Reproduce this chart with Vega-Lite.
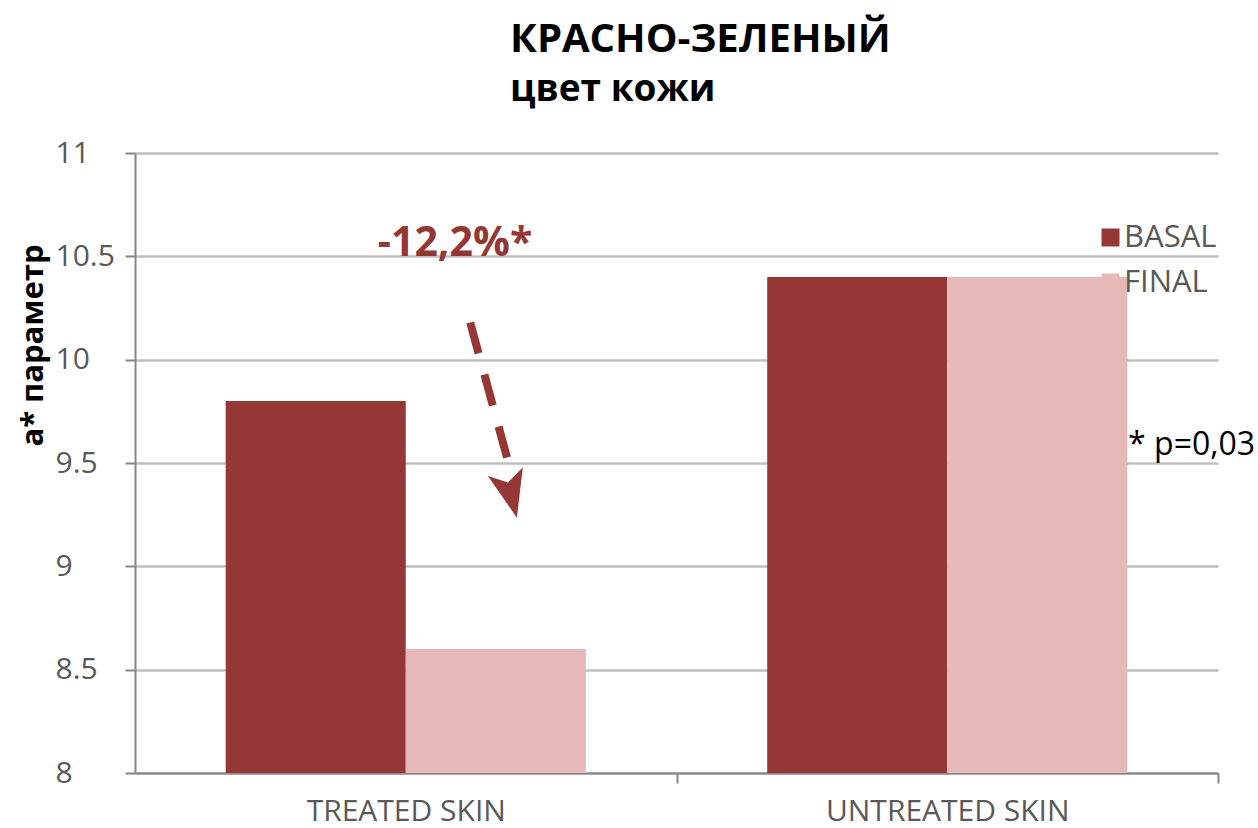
{
  "$schema": "https://vega.github.io/schema/vega-lite/v6.json",
  "width": 1083,
  "height": 620,
  "autosize": "none",
  "padding": {"left": 135, "top": 153, "right": 40, "bottom": 55},
  "background": "white",
  "config": {
    "font": "Open Sans",
    "view": {"stroke": null}
  },
  "title": {
    "text": "КРАСНО-ЗЕЛЕНЫЙ",
    "subtitle": "цвет кожи",
    "anchor": "start",
    "frame": "group",
    "dx": 375,
    "offset": 30,
    "font": "Open Sans",
    "fontSize": 40,
    "fontWeight": "bold",
    "color": "#000000",
    "subtitleFont": "Open Sans",
    "subtitleFontSize": 37,
    "subtitleFontWeight": "bold",
    "subtitleColor": "#000000",
    "subtitlePadding": 12
  },
  "layer": [
    {
      "data": {
        "values": [
          {"group": "TREATED SKIN", "series": "BASAL", "value": 9.8},
          {"group": "TREATED SKIN", "series": "FINAL", "value": 8.6},
          {"group": "UNTREATED SKIN", "series": "BASAL", "value": 10.4},
          {"group": "UNTREATED SKIN", "series": "FINAL", "value": 10.4}
        ]
      },
      "mark": {"type": "bar", "clip": true},
      "encoding": {
        "x": {
          "field": "group",
          "type": "nominal",
          "sort": null,
          "scale": {"paddingInner": 0.335, "paddingOuter": 0.1675},
          "axis": {
            "title": null,
            "labelAngle": 0,
            "labelFontSize": 30,
            "labelLimit": 0,
            "labelColor": "#595959",
            "labelPadding": 13,
            "labelOffset": -270.75,
            "domainColor": "#868686",
            "domainWidth": 2,
            "tickColor": "#868686",
            "tickWidth": 2,
            "tickSize": 10,
            "tickBand": "center",
            "tickOffset": 270.75,
            "grid": false
          }
        },
        "xOffset": {"field": "series", "type": "nominal", "sort": ["BASAL", "FINAL"], "scale": {"paddingInner": 0, "paddingOuter": 0}},
        "y": {
          "field": "value",
          "type": "quantitative",
          "scale": {"domain": [8, 11], "zero": false, "nice": false},
          "axis": {
            "title": "a* параметр",
            "titleFontSize": 31,
            "titleFontWeight": "bold",
            "titleColor": "#000000",
            "titleAngle": 270,
            "titleX": -102,
            "titleY": 192,
            "titleAlign": "center",
            "titleBaseline": "middle",
            "values": [8, 8.5, 9, 9.5, 10, 10.5, 11],
            "format": "~f",
            "labelFontSize": 30,
            "labelColor": "#595959",
            "labelAlign": "left",
            "labelPadding": 70,
            "domainColor": "#868686",
            "domainWidth": 2,
            "tickColor": "#868686",
            "tickWidth": 2,
            "tickSize": 10,
            "gridColor": "#bfbfbf",
            "gridWidth": 2.5
          }
        },
        "color": {
          "field": "series",
          "type": "nominal",
          "sort": ["BASAL", "FINAL"],
          "scale": {"domain": ["BASAL", "FINAL"], "range": ["#953735", "#E6B9B8"]},
          "legend": {
            "title": null,
            "orient": "none",
            "legendX": 960,
            "legendY": 69,
            "symbolType": "square",
            "symbolSize": 324,
            "symbolStrokeWidth": 0,
            "labelFontSize": 31,
            "labelColor": "#595959",
            "labelOffset": -2,
            "rowPadding": 13
          }
        }
      }
    },
    {
      "layer": [
        {
          "data": {"values": [{"x": 0.619, "y": 10.18, "x2": 0.697, "y2": 9.43}]},
          "mark": {"type": "rule", "color": "#953735", "strokeWidth": 8, "strokeDash": [32, 22]},
          "encoding": {
            "x": {"field": "x", "type": "quantitative", "scale": {"domain": [0, 2]}, "axis": null},
            "y": {"field": "y", "type": "quantitative"},
            "x2": {"field": "x2"},
            "y2": {"field": "y2"}
          }
        },
        {
          "data": {"values": [{"x": 0.694, "y": 9.353}]},
          "mark": {"type": "point", "shape": "M0,1 L-0.72,-0.9 L0,-0.45 L0.72,-0.9 Z", "filled": true, "color": "#953735", "opacity": 1, "size": 2500, "angle": 346},
          "encoding": {
            "x": {"field": "x", "type": "quantitative", "scale": {"domain": [0, 2]}, "axis": null},
            "y": {"field": "y", "type": "quantitative"}
          }
        },
        {
          "data": {"values": [{"x": 0.591, "y": 10.56, "label": "-12,2%*"}]},
          "mark": {"type": "text", "font": "Open Sans", "fontSize": 41, "fontWeight": "bold", "color": "#953735", "align": "center", "baseline": "middle"},
          "encoding": {
            "x": {"field": "x", "type": "quantitative", "scale": {"domain": [0, 2]}, "axis": null},
            "y": {"field": "y", "type": "quantitative"},
            "text": {"field": "label"}
          }
        },
        {
          "data": {"values": [{"x": 1.834, "y": 9.586, "label": "* p=0,03"}]},
          "mark": {"type": "text", "font": "Open Sans", "fontSize": 32, "color": "#000000", "align": "left", "baseline": "middle"},
          "encoding": {
            "x": {"field": "x", "type": "quantitative", "scale": {"domain": [0, 2]}, "axis": null},
            "y": {"field": "y", "type": "quantitative"},
            "text": {"field": "label"}
          }
        }
      ]
    }
  ],
  "resolve": {"scale": {"x": "independent"}}
}
